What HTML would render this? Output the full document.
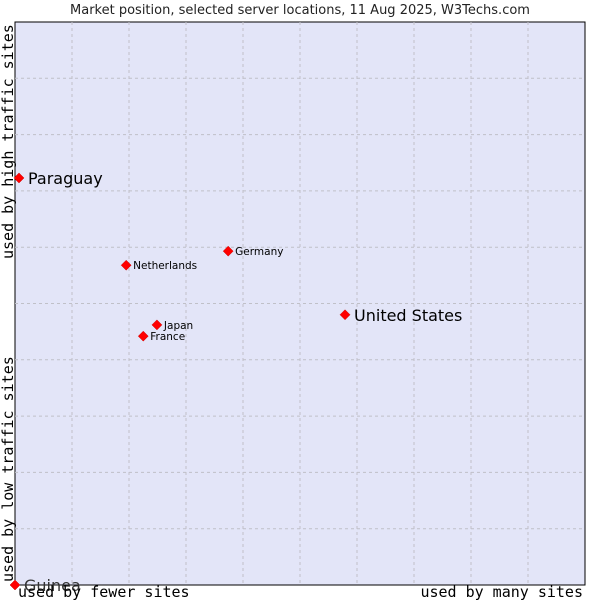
<!DOCTYPE html>
<html><head><meta charset="utf-8"><style>
html,body{margin:0;padding:0;background:#fff;width:600px;height:600px;overflow:hidden}
svg text{font-family:"DejaVu Sans","Liberation Sans",sans-serif}
.mono{font-family:"DejaVu Sans Mono","Liberation Mono",monospace}
</style></head><body>
<svg id="chart" width="600" height="600" xmlns="http://www.w3.org/2000/svg">
<text x="300" y="14" text-anchor="middle" font-size="13" fill="#222">Market position, selected server locations, 11 Aug 2025, W3Techs.com</text>
<rect x="15" y="22" width="570" height="563" fill="#e3e5f8" stroke="#000" stroke-width="1"/>
<g id="grid"></g>
<g id="pts"></g>
<text class="mono" x="18" y="597" font-size="15" fill="#000">used by fewer sites</text>
<text class="mono" x="583" y="597" text-anchor="end" font-size="15" fill="#000">used by many sites</text>
<text class="mono" transform="translate(13,582) rotate(-90)" font-size="15" fill="#000">used by low traffic sites</text>
<text class="mono" transform="translate(13,259) rotate(-90)" font-size="15" fill="#000">used by high traffic sites</text>
</svg>
<script>
const names=["Paraguay","Netherlands","Germany","United States","Japan","France","Guinea"];
const xVals=[0.7,19.5,37.4,57.9,24.9,22.5,0];
const yVals=[72.3,56.8,59.3,48.0,46.2,44.2,0];
const big=[true,false,false,true,false,false,true];
const NS="http://www.w3.org/2000/svg";
const X0=15,X1=585,Y0=585,Y1=22;
const sx=v=>X0+(X1-X0)*v/100, sy=v=>Y0-(Y0-Y1)*v/100;
const grid=document.getElementById('grid');
for(let i=1;i<10;i++){
  const lv=document.createElementNS(NS,'line');
  
  
  lv.setAttribute('x1',sx(i*10));lv.setAttribute('x2',sx(i*10));lv.setAttribute('y1',Y1);lv.setAttribute('y2',Y0);
  lv.setAttribute('stroke','#c0c0c8');lv.setAttribute('stroke-dasharray','3,3');grid.appendChild(lv);
  const lh=document.createElementNS(NS,'line');
  
  
  lh.setAttribute('y1',sy(i*10));lh.setAttribute('y2',sy(i*10));lh.setAttribute('x1',X0);lh.setAttribute('x2',X1);
  lh.setAttribute('stroke','#c0c0c8');lh.setAttribute('stroke-dasharray','3,3');grid.appendChild(lh);
}
const pts=document.getElementById('pts');
names.forEach((n,i)=>{
  const x=sx(xVals[i]),y=sy(yVals[i]);
  const d=document.createElementNS(NS,'path');
  
  
  d.setAttribute('d',`M${x} ${y-5}L${x+5} ${y}L${x} ${y+5}L${x-5} ${y}Z`);
  d.setAttribute('fill','#f00');d.setAttribute('stroke','#c00');d.setAttribute('stroke-width','0.5');
  pts.appendChild(d);
  const t=document.createElementNS(NS,'text');
  
  
  t.setAttribute('x',x+(big[i]?9:7));t.setAttribute('y',y+(big[i]?6:4));
  t.setAttribute('font-size',big[i]?16:10.5);
  t.setAttribute('fill',n==="Guinea"?'#333':'#000');
  t.textContent=n;pts.appendChild(t);
});
</script>
</body></html>
